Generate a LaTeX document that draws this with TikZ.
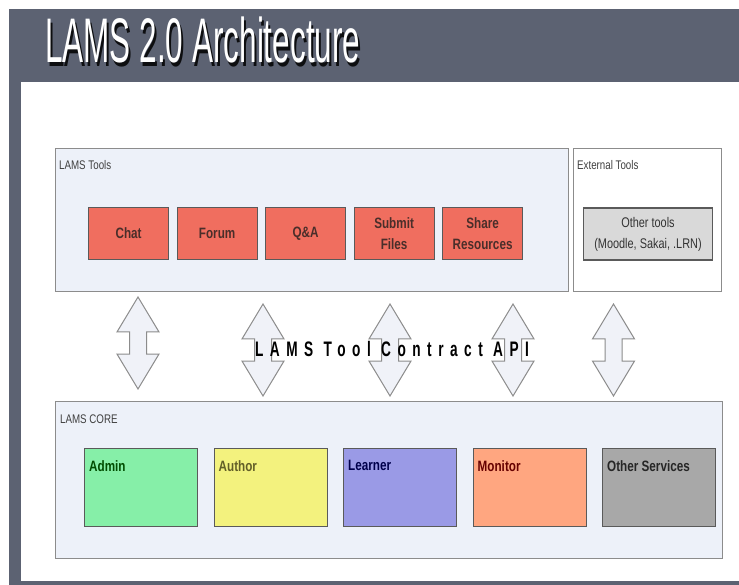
\documentclass[tikz,border=0pt]{standalone}
\usepackage{fontspec}
\setmainfont{Liberation Sans}
\newfontfamily\condfont[FakeStretch=0.78]{Liberation Sans}
\newfontfamily\titlefont[FakeStretch=0.5]{Liberation Sans}
\newfontfamily\apifont[FakeStretch=0.65,LetterSpace=31]{Liberation Sans}
\usepackage{xcolor}
\usetikzlibrary{positioning,shapes.arrows}

\definecolor{slate}{HTML}{5C6272}
\definecolor{panelblue}{HTML}{EDF1F9}
\definecolor{panelline}{HTML}{8C8C8C}
\definecolor{boxline}{HTML}{5A5A5A}
\definecolor{toolred}{HTML}{F06E5F}
\definecolor{tooltext}{HTML}{4A2E2A}
\definecolor{othergray}{HTML}{D9D9D9}
\definecolor{admingreen}{HTML}{86EFA8}
\definecolor{authoryellow}{HTML}{F3F27E}
\definecolor{learnerblue}{HTML}{9A9AE6}
\definecolor{monitororange}{HTML}{FFA680}
\definecolor{servicegray}{HTML}{A8A8A8}
\definecolor{arrowfill}{HTML}{F0F2F8}

\begin{document}
\begin{tikzpicture}[x=1pt, y=-1pt,
    panel/.style={draw=panelline, line width=1.2pt, fill=panelblue, inner sep=0pt},
    smalllabel/.style={font=\condfont\fontsize{12.5}{14}\selectfont, text=black!75, inner sep=0pt},
    toolbox/.style={draw=boxline, line width=1.2pt, fill=toolred, minimum width=80pt, minimum height=52pt,
        align=center, inner sep=0pt, font=\condfont\bfseries\fontsize{15}{21}\selectfont, text=tooltext},
    corebox/.style={draw=boxline, line width=1.2pt, minimum width=113pt, minimum height=78pt, inner sep=0pt},
    corelabel/.style={anchor=north west, inner sep=0pt, xshift=5pt, yshift=-12pt,
        font=\condfont\bfseries\fontsize{15}{18}\selectfont},
    apiarrow/.style={shape=double arrow, draw=panelline, fill=arrowfill, line width=1pt, rotate=90,
        minimum height=92pt, inner xsep=0pt, inner ysep=8pt, double arrow head extend=12.5pt,
        double arrow tip angle=62}]
    \useasboundingbox (0,0) rectangle (739,585);
    \fill[white] (0,0) rectangle (739,585);
    \fill[slate] (9,9) rectangle (739,585);
    \fill[white] (21,82) rectangle (739,581);

    % title with its shadow
    \node[anchor=base west, inner sep=0pt, text=black, opacity=0.85,
        font=\titlefont\fontsize{63}{63}\selectfont] (titleshadow) at (47,67) {LAMS 2.0 Architecture};
    \node[anchor=base west, inner sep=0pt, text=white,
        font=\titlefont\fontsize{63}{63}\selectfont] (title) at (45,63) {LAMS 2.0 Architecture};

    % tools row
    \node[panel, minimum width=513pt, minimum height=143pt, anchor=north west] (tools) at (55,148) {};
    \node[smalllabel, anchor=base west] (toolslbl) at (59,170) {LAMS Tools};
    \node[panel, fill=white, minimum width=148pt, minimum height=143pt, anchor=north west] (ext) at (573,148) {};
    \node[smalllabel, anchor=base west] (extlbl) at (577,170) {External Tools};

    \node[toolbox, anchor=north west] (chat) at (88,207) {Chat};
    \node[toolbox, right=7.3pt of chat] (forum) {Forum};
    \node[toolbox, right=7.3pt of forum] (qa) {Q\&A};
    \node[toolbox, right=7.3pt of qa] (submit) {Submit\\Files};
    \node[toolbox, right=7.3pt of submit] (share) {Share\\Resources};
    \node[toolbox, fill=othergray, minimum width=129pt, text=black!80,
        font=\condfont\fontsize{14}{21}\selectfont] (other) at (648,234) {Other tools\\(Moodle, Sakai, .LRN)};

    % contract arrows
    \node[apiarrow] (arr1) at (138,343) {};
    \node[apiarrow] (arr2) at (263,350) {};
    \node[apiarrow] (arr3) at (390,350) {};
    \node[apiarrow] (arr4) at (513,350) {};
    \node[apiarrow] (arr5) at (613.5,350) {};
    \node[anchor=base, inner sep=0pt, font=\apifont\bfseries\fontsize{21}{21}\selectfont] (api) at (392,356) {LAMS Tool Contract API};

    % core row
    \node[panel, minimum width=667pt, minimum height=157pt, anchor=north west] (core) at (55,401) {};
    \node[smalllabel, anchor=base west] (corelbl) at (60,423) {LAMS CORE};

    \node[corebox, fill=admingreen, anchor=north west,
        label={[corelabel, text=green!30!black]north west:Admin}] (admin) at (84,448) {};
    \node[corebox, fill=authoryellow, right=15.3pt of admin,
        label={[corelabel, text=olive!60!black]north west:Author}] (author) {};
    \node[corebox, fill=learnerblue, right=15.3pt of author,
        label={[corelabel, text=blue!30!black]north west:Learner}] (learner) {};
    \node[corebox, fill=monitororange, right=15.3pt of learner,
        label={[corelabel, text=red!40!black]north west:Monitor}] (monitor) {};
    \node[corebox, fill=servicegray, right=15.3pt of monitor,
        label={[corelabel, text=black!85]north west:Other Services}] (services) {};
\end{tikzpicture}
\end{document}
